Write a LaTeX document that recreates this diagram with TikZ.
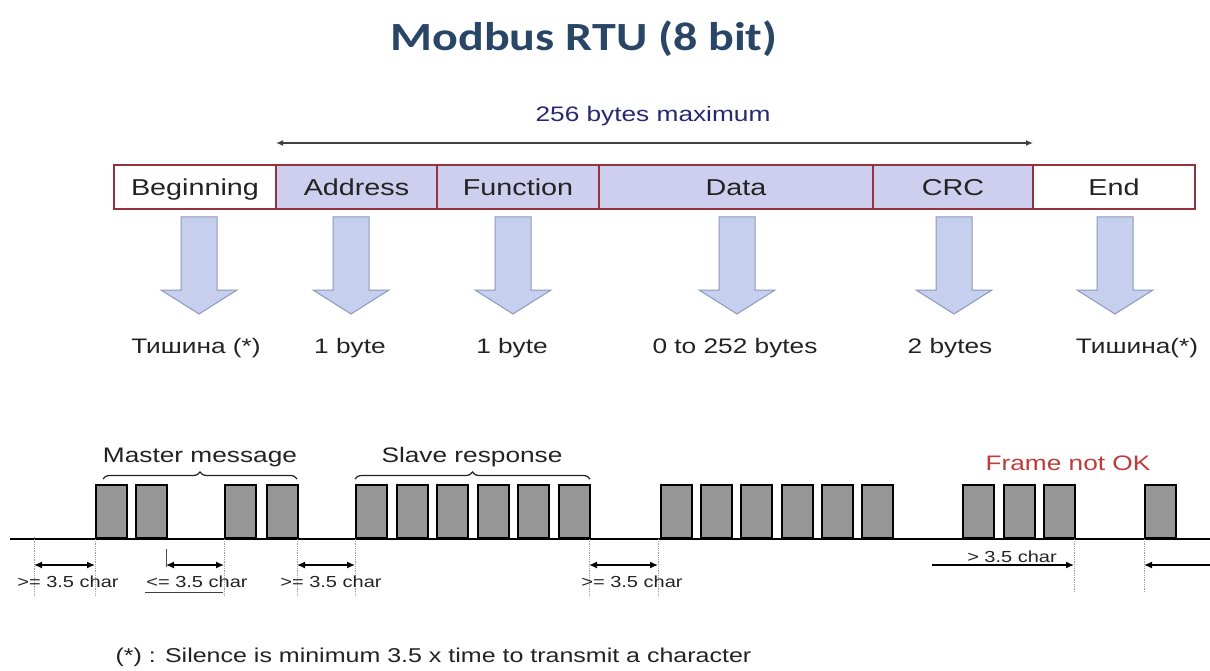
\documentclass[tikz,border=0pt]{standalone}
\usepackage{fontspec}
\setmainfont{Liberation Sans}[FakeStretch=1.25]
\newfontfamily\titlefont{Carlito}[FakeStretch=1.2]
\usetikzlibrary{arrows.meta,decorations.pathreplacing}
\definecolor{titleblue}{RGB}{42,70,102}
\definecolor{navy}{RGB}{40,40,110}
\definecolor{boxfill}{RGB}{206,206,238}
\definecolor{boxline}{RGB}{150,50,60}
\definecolor{arrfill}{RGB}{198,208,238}
\definecolor{arrline}{RGB}{140,152,188}
\definecolor{blockgray}{RGB}{150,150,150}
\definecolor{notok}{RGB}{190,60,60}
\definecolor{txt}{RGB}{35,35,35}
\tikzset{
  field/.style={draw=boxline, line width=1.2pt, minimum height=44pt, inner sep=0pt,
    text=txt, font=\fontsize{23}{27}\selectfont, text height=17pt, text depth=0pt},
  pfill/.style={fill=boxfill},
  sizelabel/.style={anchor=base, text=txt, font=\fontsize{21}{25}\selectfont},
  block/.style={draw=black, line width=1.6pt, fill=blockgray, minimum width=31pt,
    minimum height=53pt, inner sep=0pt, anchor=south west},
  baseline/.style={draw=black, line width=1.4pt},
  guide/.style={draw=gray!75, densely dotted, line width=0.8pt},
  dim/.style={{Latex[length=8pt,width=7pt]}-{Latex[length=8pt,width=7pt]}, line width=1.4pt, black},
  dimr/.style={-{Latex[length=8pt,width=7pt]}, line width=1.4pt, black},
  dimlabel/.style={anchor=base, text=txt, font=\fontsize{16}{19}\selectfont},
  grouplabel/.style={anchor=base, text=txt, font=\fontsize{21}{25}\selectfont},
  bracestyle/.style={decorate, decoration={brace, amplitude=7pt}, line width=1.2pt, draw=txt},
  downarrow/.pic={\draw[fill=arrfill, draw=arrline, line width=1pt]
    (-18,0) -- (18,0) -- (18,73) -- (38,73) -- (0,97) -- (-38,73) -- (-18,73) -- cycle;}
}
\begin{document}
\begin{tikzpicture}[x=1pt,y=-1pt]
\useasboundingbox (0,0) rectangle (1210,671);
\fill[white] (0,0) rectangle (1210,671);

% title
\node[font=\titlefont\bfseries\fontsize{40}{45}\selectfont, text=titleblue, anchor=base] (title) at (584,51) {Modbus RTU (8 bit)};

% 256 bytes maximum
\node[anchor=base, text=navy, font=\fontsize{21}{25}\selectfont] (maxlbl) at (653,122) {256 bytes maximum};
\coordinate (topL) at (276,143);
\coordinate (topR) at (1033,143);
\draw[{Latex[length=7pt,width=6pt]}-{Latex[length=7pt,width=6pt]}, line width=1.3pt, draw=black!75] (topL) -- (topR);

% frame fields
\node[field, minimum width=162pt] (beg) at (195,187) {Beginning};
\node[field, pfill, minimum width=161pt] (addr) at (356.5,187) {Address};
\node[field, pfill, minimum width=162pt] (func) at (518,187) {Function};
\node[field, pfill, minimum width=274pt] (data) at (736,187) {Data};
\node[field, pfill, minimum width=160pt] (crc) at (953,187) {CRC};
\node[field, minimum width=162pt] (endf) at (1114,187) {End};

% block arrows
\pic (a1) at (199,217) {downarrow};
\pic (a2) at (351,217) {downarrow};
\pic (a3) at (513,217) {downarrow};
\pic (a4) at (737,217) {downarrow};
\pic (a5) at (954,217) {downarrow};
\pic (a6) at (1115,217) {downarrow};

% size labels
\node[sizelabel] (z1) at (196,353) {Тишина (*)};
\node[sizelabel] (z2) at (350,353) {1 byte};
\node[sizelabel] (z3) at (512,353) {1 byte};
\node[sizelabel] (z4) at (735,353) {0 to 252 bytes};
\node[sizelabel] (z5) at (950,353) {2 bytes};
\node[sizelabel] (z6) at (1137,353) {Тишина(*)};

% timing baseline
\coordinate (bl) at (10,539);
\coordinate (br) at (1210,539);
\draw[baseline] (bl) -- (br);

% blocks
\foreach \x [count=\i] in {95,135,224,266} \node[block] (m\i) at (\x,539) {};
\foreach \x [count=\i] in {355,396,436,477,517,558} \node[block] (s\i) at (\x,539) {};
\foreach \x [count=\i] in {660,700,740,781,821,861} \node[block] (r\i) at (\x,539) {};
\foreach \x [count=\i] in {962,1003,1043} \node[block] (f\i) at (\x,539) {};
\node[block] (g1) at (1144,539) {};

% braces and group labels
\coordinate (mbL) at (103,479);
\coordinate (mbR) at (297,479);
\coordinate (sbL) at (355,479);
\coordinate (sbR) at (590,479);
\draw[bracestyle] (mbL) -- (mbR);
\draw[bracestyle] (sbL) -- (sbR);
\node[grouplabel] (mlbl) at (200,462) {Master message};
\node[grouplabel] (slbl) at (472,462) {Slave response};
\node[anchor=base, text=notok, font=\fontsize{21}{25}\selectfont] (nok) at (1068,470) {Frame not OK};

% guides
\coordinate (g1t) at (34,537);  \coordinate (g1b) at (34,595);
\coordinate (g2t) at (95,539);  \coordinate (g2b) at (95,595);
\coordinate (g3t) at (224,539); \coordinate (g3b) at (224,595);
\coordinate (g4t) at (297,539); \coordinate (g4b) at (297,595);
\coordinate (g5t) at (355,539); \coordinate (g5b) at (355,595);
\coordinate (g6t) at (589,539); \coordinate (g6b) at (589,595);
\coordinate (g7t) at (658,539); \coordinate (g7b) at (658,595);
\coordinate (g8t) at (1074,539); \coordinate (g8b) at (1074,593);
\coordinate (g9t) at (1144,539); \coordinate (g9b) at (1144,593);
\foreach \g in {g1,g2,g3,g4,g5,g6,g7,g8,g9} \draw[guide] (\g t) -- (\g b);
\coordinate (tickT) at (166,549);
\coordinate (tickB) at (166,567);
\draw[draw=black!70, line width=0.9pt] (tickT) -- (tickB);

% dimension arrows
\coordinate (d1a) at (34,565);   \coordinate (d1b) at (95,565);
\coordinate (d2a) at (166,565);  \coordinate (d2b) at (224,565);
\coordinate (d3a) at (297,565);  \coordinate (d3b) at (355,565);
\coordinate (d4a) at (589,565);  \coordinate (d4b) at (658,565);
\coordinate (d5a) at (932,565);  \coordinate (d5b) at (1074,565);
\coordinate (d6a) at (1210,565); \coordinate (d6b) at (1144,565);
\draw[dim] (d1a) -- (d1b);
\draw[dim] (d2a) -- (d2b);
\draw[dim] (d3a) -- (d3b);
\draw[dim] (d4a) -- (d4b);
\draw[dimr] (d5a) -- (d5b);
\draw[dimr] (d6a) -- (d6b);

\node[dimlabel] (t1) at (68,587) {>= 3.5 char};
\node[dimlabel] (t2) at (197,587) {<= 3.5 char};
\node[dimlabel] (t3) at (331,587) {>= 3.5 char};
\node[dimlabel] (t4) at (632,587) {>= 3.5 char};
\node[dimlabel] (t5) at (1012,562) {> 3.5 char};
\coordinate (ulL) at (145,592);
\coordinate (ulR) at (223,592);
\draw[draw=black!75, line width=1pt] (ulL) -- (ulR);

% footnote
\node[anchor=base west, text=txt, font=\fontsize{20}{24}\selectfont] (foot) at (112,662) {(*) : Silence is minimum 3.5 x time to transmit a character};
\end{tikzpicture}
\end{document}
